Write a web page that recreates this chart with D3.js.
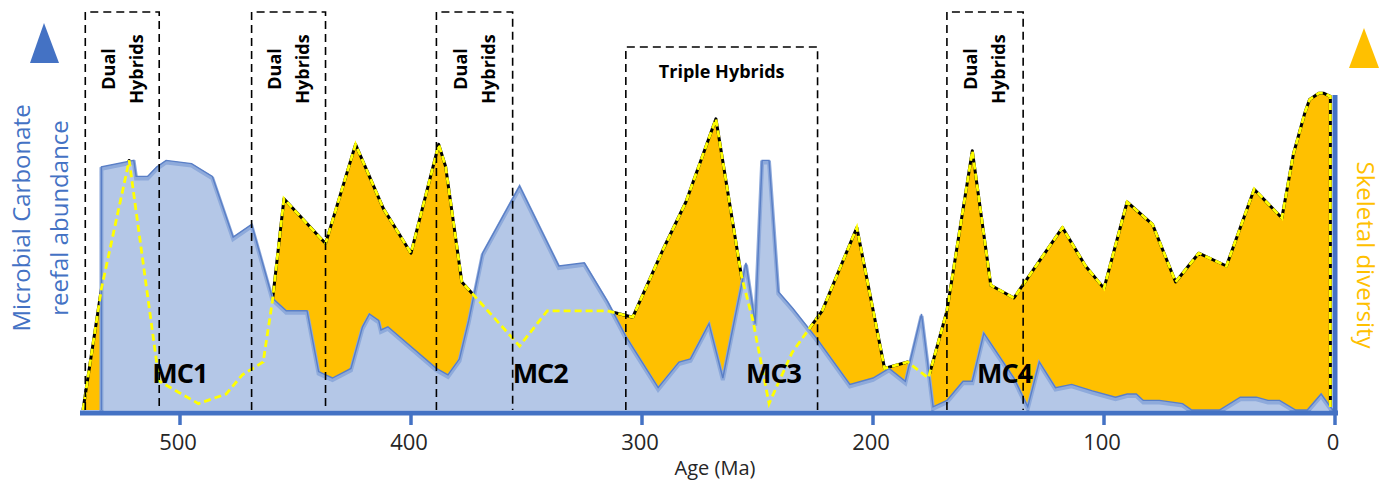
<!DOCTYPE html>
<html lang="en">
<head>
<meta charset="UTF-8">
<title>Microbial carbonate vs skeletal diversity</title>
<script src="https://cdn.jsdelivr.net/npm/d3@7"></script>
<style>
  body { margin: 0; background: #fff; }
  text { font-family: "Open Sans", sans-serif; }
</style>
</head>
<body>
<svg width="1391" height="483"></svg>
<script>
// microbial carbonate reefal abundance (blue area)
const microbialAge = [534, 534, 520, 519, 514, 510, 506, 495, 486, 477, 469, 460, 454, 445, 440, 434, 426, 421, 418, 414,
    413, 410, 389, 384, 379, 375, 369, 353, 336, 325, 315, 307, 293, 284, 279, 271, 265, 255, 251, 248,
    245, 241, 235, 224, 210, 200, 193, 186, 179, 174, 168, 161, 157, 152, 139, 133, 128, 121, 114, 105,
    95, 90, 86, 83, 76, 66, 62, 50, 41, 34, 29, 24, 17, 12, 6, 2, 1]
const microbialVal = [0, 76, 78, 73, 73, 76, 78, 77, 73, 54, 58, 35, 31, 31, 12, 10, 13, 26, 30, 28,
    25, 26, 13, 11, 16, 28, 49, 70, 45, 46, 34, 23, 7, 15, 16, 27, 10, 46, 27, 78,
    78, 37, 32, 22, 8, 10, 13, 9, 30, 1, 3, 9, 9, 24, 10, 1, 15, 7, 8, 6,
    4, 5, 5, 3, 3, 2, 0, 0, 4, 4, 3, 3, 0, 0, 5, 1, 0]

// skeletal diversity (orange area + dashed yellow line)
const skeletalAge = [542, 534, 522, 509, 492, 480, 473, 464, 460, 455, 437, 424, 412, 400, 388, 385, 378, 373, 353, 341,
    315, 304, 291, 281, 268, 257, 252, 245, 235, 222, 207, 195, 185, 176, 168, 157, 149, 139, 118, 108,
    100, 90, 79, 69, 59, 47, 35, 23, 18, 13, 11, 7, 5, 2, 2]
const skeletalVal = [0, 38, 78, 9, 2, 5, 11, 15, 34, 66, 52, 83, 63, 49, 83, 76, 40, 36, 20, 31,
    31, 29, 50, 65, 91, 42, 28, 2, 18, 31, 57, 13, 15, 10, 31, 81, 39, 35, 57, 45,
    38, 65, 58, 40, 49, 45, 69, 60, 80, 93, 97, 99, 99, 98, 0]

// hybrid windows (Ma)
const hybridStart = [541, 469, 389, 307, 168]
const hybridEnd = [509, 437, 356, 224, 135]
const hybridKind = ["Dual", "Dual", "Dual", "Triple", "Dual"]

const mcLabels = ["MC1", "MC2", "MC3", "MC4"]
const mcAge = [512, 356, 255, 155]

const tickAges = [500, 400, 300, 200, 100, 0]

const blue = "#4472c4", orange = "#ffc000"
const svg = d3.select("svg")

const x = d3.scaleLinear().domain([500, 0]).range([180, 1335])
const y = d3.scaleLinear().domain([0, 100]).range([410, 90])

const micro = microbialAge.map((a, i) => ({age: a, v: microbialVal[i]}))
const skel = skeletalAge.map((a, i) => ({age: a, v: skeletalVal[i]}))

const area = d3.area().x(d => x(d.age)).y0(y(0)).y1(d => y(d.v))
const line = d3.line().x(d => x(d.age)).y(d => y(d.v))

// skeletal area, outlined in black
svg.append("path").datum(skel).attr("d", area).attr("fill", orange)
svg.append("path").datum(skel).attr("d", line)
    .attr("fill", "none").attr("stroke", "#000").attr("stroke-width", 3).attr("stroke-linejoin", "round")

// microbial area on top
svg.append("path").datum(micro).attr("d", area).attr("fill", "#b4c7e7")
svg.append("path").datum(micro).attr("d", line).attr("transform", "translate(0,2)")
    .attr("fill", "none").attr("stroke", "#8eaadb").attr("stroke-width", 4)
svg.append("path").datum(micro).attr("d", line)
    .attr("fill", "none").attr("stroke", "#5a7fc6").attr("stroke-width", 1.4)

// dashed yellow skeletal line over everything
svg.append("path").datum(skel).attr("d", line)
    .attr("fill", "none").attr("stroke", "#ffff00").attr("stroke-width", 2.8)
    .attr("stroke-dasharray", "7,4")

// hybrid boxes
hybridStart.forEach((s, i) => {
    const x0 = x(s), x1 = x(hybridEnd[i])
    const top = hybridKind[i] === "Triple" ? 47 : 12
    svg.append("path")
        .attr("d", `M${x0},${y(0)}V${top}H${x1}V${y(0)}`)
        .attr("fill", "none").attr("stroke", "#000").attr("stroke-width", 1.6)
        .attr("stroke-dasharray", "8,5")
    const cx = (x0 + x1) / 2
    if (hybridKind[i] === "Triple") {
        svg.append("text").attr("x", cx).attr("y", 78)
            .attr("text-anchor", "middle").attr("font-weight", "bold").attr("font-size", 18)
            .text("Triple Hybrids")
    } else {
        const g = svg.append("g").attr("transform", `translate(${cx},69) rotate(-90)`)
        g.append("text").attr("x", 0).attr("y", -14).attr("dy", "0.35em")
            .attr("text-anchor", "middle").attr("font-weight", "bold").attr("font-size", 18)
            .text("Dual")
        g.append("text").attr("x", 0).attr("y", 14).attr("dy", "0.35em")
            .attr("text-anchor", "middle").attr("font-weight", "bold").attr("font-size", 18)
            .text("Hybrids")
    }
})

// MC labels
mcLabels.forEach((t, i) => {
    svg.append("text").attr("x", x(mcAge[i])).attr("y", 383)
        .attr("font-weight", "bold").attr("font-size", 27).attr("letter-spacing", -1).attr("fill", "#000")
        .text(t)
})

// axes
svg.append("line").attr("x1", 80).attr("x2", 1338).attr("y1", 413).attr("y2", 413)
    .attr("stroke", blue).attr("stroke-width", 5)
svg.append("line").attr("x1", x(0)).attr("x2", x(0)).attr("y1", 95).attr("y2", 415)
    .attr("stroke", blue).attr("stroke-width", 5)
tickAges.forEach(a => {
    svg.append("line").attr("x1", x(a)).attr("x2", x(a)).attr("y1", 414).attr("y2", 425)
        .attr("stroke", blue).attr("stroke-width", 3.5)
    svg.append("text").attr("x", x(a) - 2).attr("y", 450).attr("text-anchor", "middle")
        .attr("font-size", 22).attr("fill", "#262626").text(a)
})
svg.append("text").attr("x", 715).attr("y", 475).attr("text-anchor", "middle")
    .attr("font-size", 20).attr("fill", "#262626").text("Age (Ma)")

// left label + triangle
svg.append("path").attr("d", "M44,23L59,63L30,63Z").attr("fill", blue)
const lt = svg.append("g").attr("transform", "translate(40,218) rotate(-90)")
lt.append("text").attr("y", -18).attr("dy", "0.35em").attr("text-anchor", "middle")
    .attr("font-size", 24).attr("fill", blue).text("Microbial Carbonate")
lt.append("text").attr("y", 20).attr("dy", "0.35em").attr("text-anchor", "middle")
    .attr("font-size", 24).attr("fill", blue).text("reefal abundance")

// right label + triangle
svg.append("path").attr("d", "M1364,28L1379,68L1349,68Z").attr("fill", orange)
svg.append("text").attr("transform", "translate(1365,255) rotate(90)")
    .attr("dy", "0.35em").attr("text-anchor", "middle")
    .attr("font-size", 24).attr("fill", orange).text("Skeletal diversity")
</script>
</body>
</html>
